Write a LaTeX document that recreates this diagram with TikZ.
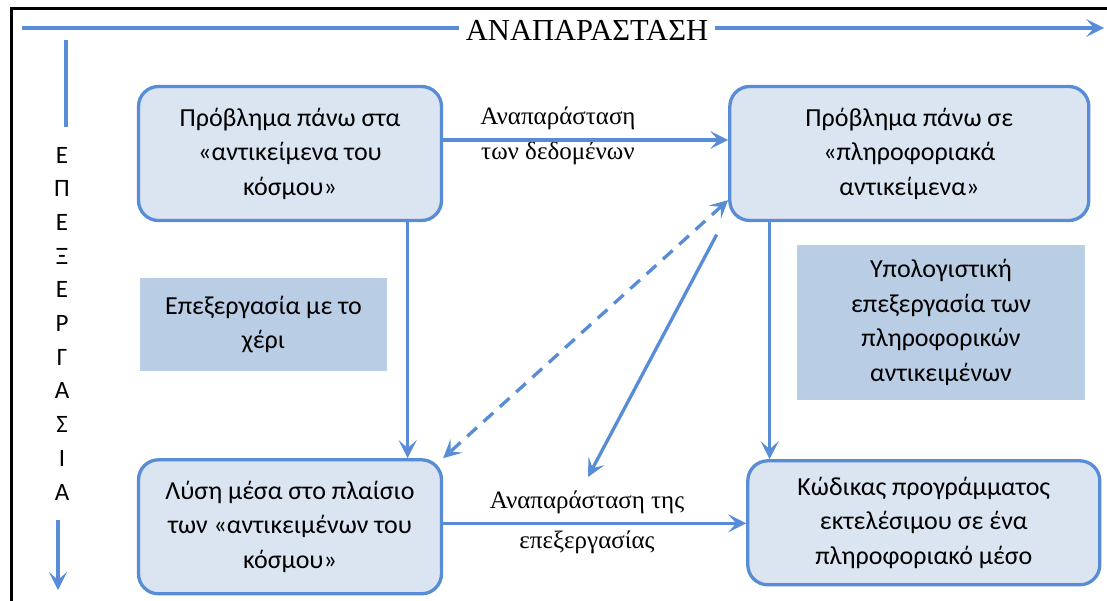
\documentclass[tikz,border=0pt]{standalone}
\usepackage{fontspec}
\setmainfont{Carlito}
\newfontfamily\serifgr{Liberation Serif}
\usetikzlibrary{positioning,arrows.meta}
\definecolor{boxblue}{RGB}{88,140,215}
\definecolor{boxfill}{RGB}{219,228,241}
\definecolor{notefill}{RGB}{185,205,229}

\begin{document}
\begin{tikzpicture}[x=1pt,y=-1pt,
  objbox/.style={draw=boxblue,line width=3.3pt,fill=boxfill,rounded corners=20pt,
    align=center,inner sep=0pt,font=\fontsize{26}{34.5}\selectfont},
  notebox/.style={fill=notefill,align=center,inner sep=0pt,font=\fontsize{26}{34.5}\selectfont},
  edgelabel/.style={align=center,font=\serifgr\fontsize{25}{35}\selectfont},
  plainline/.style={draw=boxblue,line width=3.3pt},
  flow/.style={plainline,-{Stealth[length=18pt,width=18pt,inset=8pt]}},
  ]
  \useasboundingbox (0,0) rectangle (1107,601);
  % frame
  \draw[line width=3.5pt] (11.5,601) -- (11.5,8.5) -- (1107,8.5);
  % top axis
  \node (reptitle) [font=\serifgr\fontsize{30.5}{30.5}\selectfont,fill=white,inner xsep=7pt] at (587,30) {ΑΝΑΠΑΡΑΣΤΑΣΗ};
  \coordinate (repstart) at (22,28);
  \coordinate (repend) at (1104,28);
  \draw[plainline] (repstart) -- (reptitle.west |- repstart);
  \draw[flow] (reptitle.east |- repend) -- (repend);
  % left axis
  \node (proclabel) [font=\fontsize{25}{33.7}\selectfont,align=center,inner sep=0pt] at (62,323.5)
    {Ε\\Π\\Ε\\Ξ\\Ε\\Ρ\\Γ\\Α\\Σ\\Ι\\Α};
  \coordinate (proctop) at (66,40);
  \coordinate (procmid) at (66,127);
  \coordinate (procstart) at (58,520);
  \coordinate (procend) at (58,590);
  \draw[plainline] (proctop) -- (procmid);
  \draw[flow] (procstart) -- (procend);
  % boxes
  \node (probworld) [objbox,minimum width=303pt,minimum height=134pt] at (290,153.5)
    {Πρόβλημα πάνω στα\\«αντικείμενα του\\κόσμου»};
  \node (probinfo) [objbox,minimum width=359pt,minimum height=134pt,right=285pt of probworld]
    {Πρόβλημα πάνω σε\\«πληροφοριακά\\αντικείμενα»};
  \node (solworld) [objbox,minimum width=303pt,minimum height=134pt,below=236pt of probworld]
    {Λύση μέσα στο πλαίσιο\\των «αντικειμένων του\\κόσμου»};
  \node (code) [objbox,minimum width=352pt,minimum height=124pt,below=237pt of probinfo,xshift=14.5pt]
    {Κώδικας προγράμματος\\εκτελέσιμου σε ένα\\πληροφοριακό μέσο};
  % notes
  \node (handwork) [notebox,minimum width=247pt,minimum height=93pt] at (263.5,324.5)
    {Επεξεργασία με το\\χέρι};
  \node (compwork) [notebox,minimum width=288pt,minimum height=155pt] at (941,322.5)
    {Υπολογιστική\\επεξεργασία των\\πληροφορικών\\αντικειμένων};
  % labels
  \node (datarep) [edgelabel] at (558,136) {Αναπαράσταση\\των δεδομένων};
  \node (procrep) [edgelabel,font=\serifgr\fontsize{25}{40}\selectfont] at (587,522) {Αναπαράσταση της\\επεξεργασίας};
  % arrows
  \draw[flow] ([yshift=13.5pt]probworld.east) -- ([yshift=13.5pt]probworld.east -| probinfo.west);
  \draw[flow] ([yshift=3.5pt]solworld.east) -- ([yshift=3.5pt]solworld.east -| code.west);
  \draw[flow] ([xshift=-35.5pt]probworld.south east) -- ([xshift=-35.5pt]probworld.south east |- solworld.north);
  \draw[flow] ([xshift=41.5pt]probinfo.south west) -- ([xshift=41.5pt]probinfo.south west |- code.north);
  \draw[flow,{Stealth[length=18pt,width=18pt,inset=8pt]}-{Stealth[length=18pt,width=18pt,inset=8pt]},
    dash pattern=on 13pt off 9pt] ([yshift=22pt]probinfo.south west) -- (solworld.north east);
  \coordinate (diagtop) at ([xshift=-11.5pt,yshift=-12.5pt]probinfo.south west);
  \coordinate (diagend) at (588,477);
  \draw[flow] (diagtop) -- (diagend);
\end{tikzpicture}
\end{document}
